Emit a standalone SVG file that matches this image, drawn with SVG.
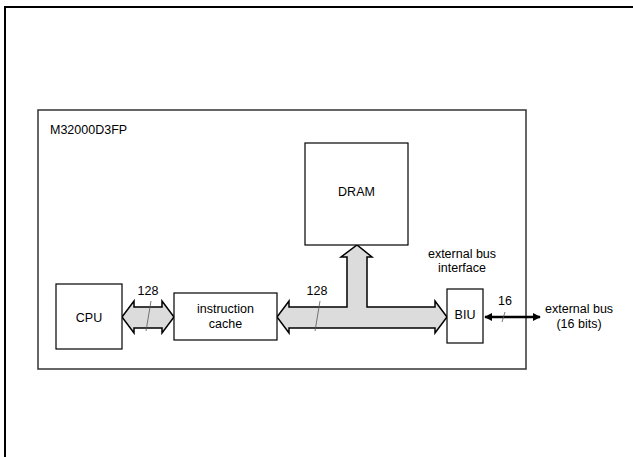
<svg xmlns="http://www.w3.org/2000/svg" width="633" height="457" viewBox="0 0 633 457">
<defs>
<style>
text{font-family:"Liberation Sans",Arial,sans-serif;font-size:12.5px;fill:#000}
.c{text-anchor:middle}
.box{fill:#fff;stroke:#000;stroke-width:1.2}
.bus{fill:#dcdcdc;stroke:#000;stroke-width:1.5;stroke-linejoin:miter}
.slash{stroke:#555;stroke-width:0.8}
</style>
<marker id="ah" viewBox="0 0 10 10" refX="9" refY="5" markerWidth="3.2" markerHeight="3.2" orient="auto-start-reverse">
<path d="M0,0 L10,5 L0,10 z" fill="#000"/>
</marker>
</defs>
<rect width="633" height="457" fill="#fff"/>
<g id="frame">
<polyline points="5,460 5,7 640,7" fill="none" stroke="#000" stroke-width="2"/>
</g>
<g id="chip">
<rect x="38" y="110" width="488" height="259" fill="none" stroke="#333" stroke-width="1.5"/>
<text x="50" y="134">M32000D3FP</text>
</g>
<g id="connectors">
<path class="bus" d="M122,317 L134,301 L134,307 L162,307 L162,301 L174,317 L162,333 L162,328 L134,328 L134,333 Z"/>
<line class="slash" x1="151" y1="301" x2="146" y2="331"/>
<text class="c" x="148" y="295">128</text>
<path class="bus" d="M277,317 L289,301 L289,307 L347,307 L347,257 L341,257 L357,245 L372,257 L367,257 L367,307 L435,307 L435,301 L447,317 L435,333 L435,328 L289,328 L289,333 Z"/>
<line class="slash" x1="320" y1="301" x2="315" y2="331"/>
<text class="c" x="317" y="295">128</text>
<line x1="485" y1="317" x2="540" y2="317" stroke="#000" stroke-width="2.5" marker-start="url(#ah)" marker-end="url(#ah)"/>
<line class="slash" x1="505" y1="312" x2="502" y2="322"/>
<text class="c" x="505" y="305">16</text>
<text x="545" y="313">external bus</text>
<text class="c" x="579" y="328">(16 bits)</text>
</g>
<g id="cpu">
<rect class="box" x="56" y="284" width="66" height="65"/>
<text class="c" x="89" y="321.5">CPU</text>
</g>
<g id="icache">
<rect class="box" x="174" y="293" width="103" height="47"/>
<text class="c" x="225.5" y="313">instruction</text>
<text class="c" x="225.5" y="328">cache</text>
</g>
<g id="dram">
<rect class="box" x="305" y="143" width="103" height="102"/>
<text class="c" x="356.5" y="196">DRAM</text>
</g>
<g id="biu">
<rect class="box" x="447" y="289" width="36" height="54"/>
<text class="c" x="465" y="319">BIU</text>
<text class="c" x="462" y="258">external bus</text>
<text class="c" x="462" y="272">interface</text>
</g>
</svg>
